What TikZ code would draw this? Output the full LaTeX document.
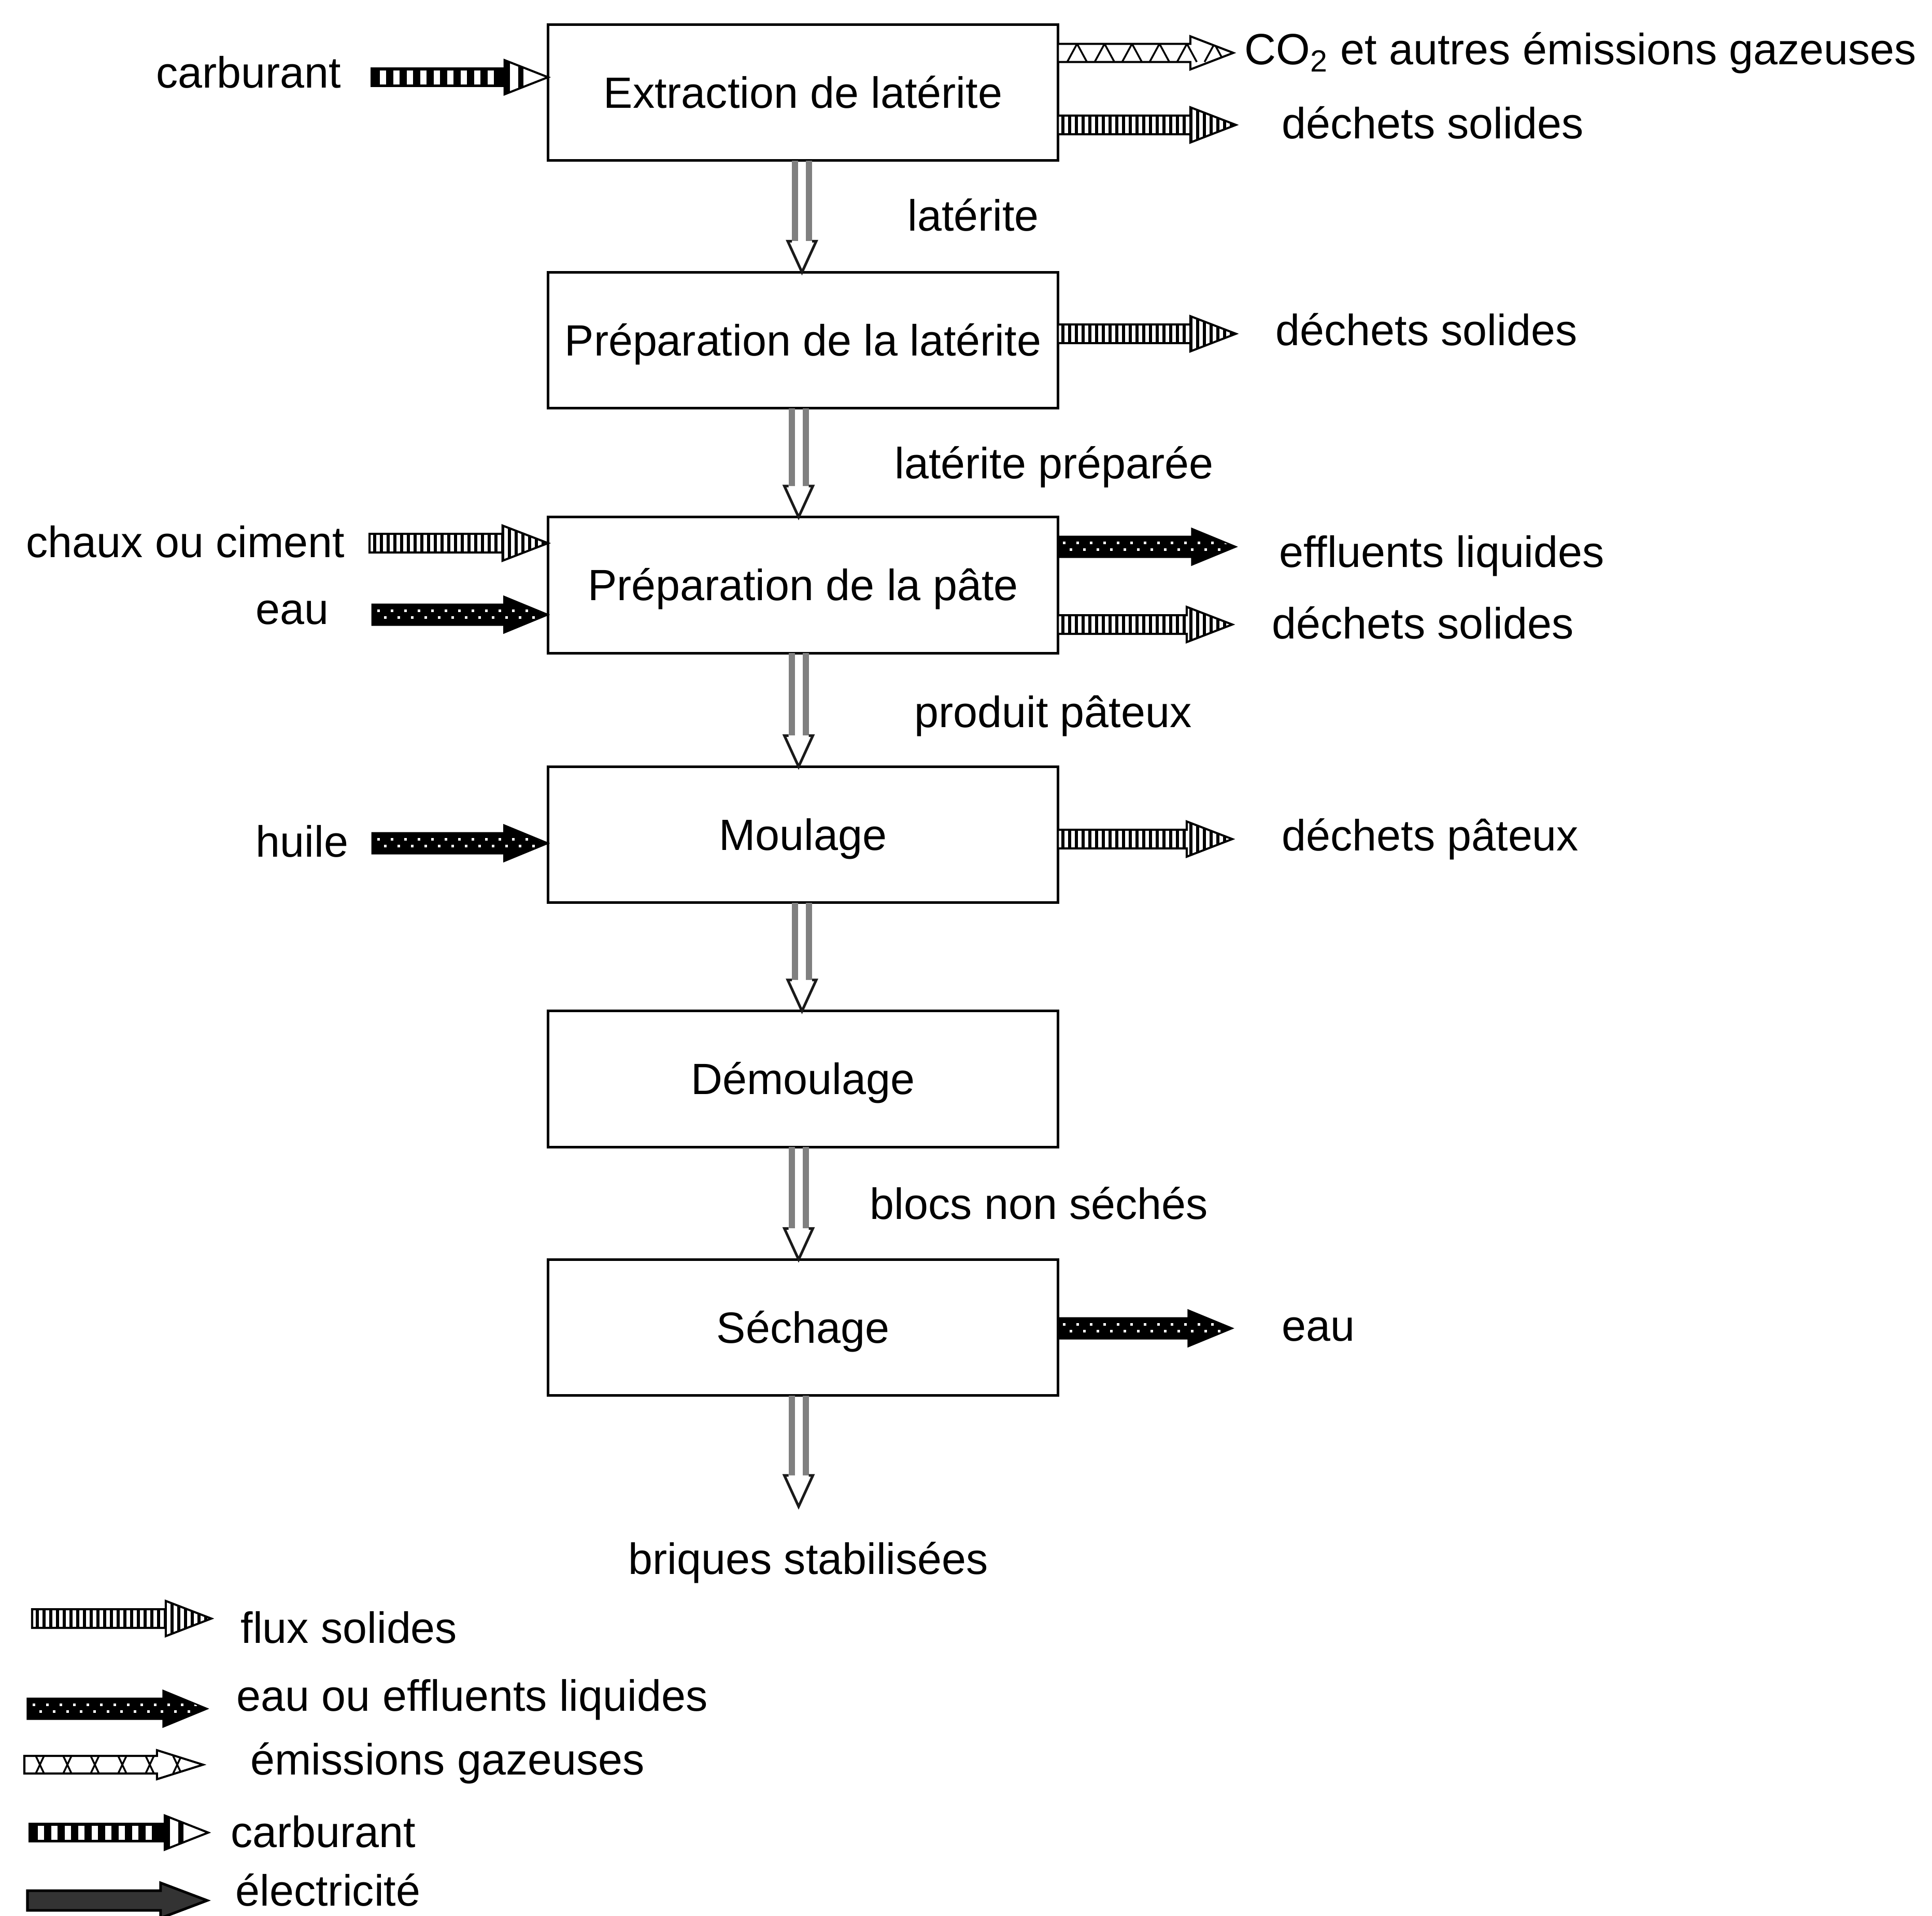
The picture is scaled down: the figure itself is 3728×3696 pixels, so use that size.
\documentclass[tikz,border=0pt]{standalone}
\usepackage{fontspec}
\setmainfont{Liberation Sans}
\usetikzlibrary{calc}
\newcommand\lbl{\fontsize{24}{28}\selectfont}
\definecolor{shaftgray}{HTML}{808080}
\definecolor{headdark}{HTML}{1A1A1A}
\definecolor{elecfill}{HTML}{333333}

% outline of a flow arrow in local coordinates (x along the arrow, 0..\FAl)
\newcommand\FApath{(0,-\FAh) -- (\FAb,-\FAh) -- (\FAb,-\FAH) -- (\FAl,0) -- (\FAb,\FAH) -- (\FAb,\FAh) -- (0,\FAh) -- cycle}
\newcommand\FAsetb{\pgfmathsetmacro\FAb{\FAl-\FAhl}}

\newcommand\FAtypesolid{%
  \def\FAh{18}\def\FAH{34}\def\FAhl{88}\FAsetb
  \fill[white] \FApath;
  \begin{scope}
    \clip \FApath;
    \foreach \i in {7,20,...,\FAl}{\fill (\i,-40) rectangle ++(6,80);}
  \end{scope}
  \draw[line width=0.4mm] \FApath;}

\newcommand\FAtypeliquid{%
  \def\FAh{20}\def\FAH{35}\def\FAhl{85}\FAsetb
  \fill \FApath;
  \begin{scope}
    \clip \FApath;
    \foreach \i in {10,36,...,\FAl}{%
      \fill[white] (\i,-10) rectangle ++(5,5);
      \fill[white] (\i+13,3) rectangle ++(5,5);}
  \end{scope}
  \draw[line width=0.3mm] \FApath;}

\newcommand\FAtypegas{%
  \def\FAh{17.5}\def\FAH{32}\def\FAhl{83}\FAsetb
  \fill[white] \FApath;
  \begin{scope}
    \clip \FApath;
    \foreach \i in {18,71,...,\FAl}{\draw[line width=0.35mm] (\i,\FAh) -- (\i+19,-\FAh) -- (\i+38,\FAh);}
  \end{scope}
  \draw[line width=0.4mm] \FApath;}

\newcommand\FAtypegasx{%
  \def\FAh{17}\def\FAH{28}\def\FAhl{89}\FAsetb
  \fill[white] \FApath;
  \begin{scope}
    \clip \FApath;
    \foreach \i in {30,83,...,\FAl}{\draw[line width=0.35mm] (\i-8,-\FAh) -- (\i+8,\FAh) (\i+8,-\FAh) -- (\i-8,\FAh);}
  \end{scope}
  \draw[line width=0.4mm] \FApath;}

\newcommand\FAtypefuel{%
  \def\FAh{19}\def\FAH{33}\def\FAhl{84}\FAsetb
  \pgfmathsetmacro\FAbm{\FAb-14}
  \fill (0,-\FAh) rectangle (\FAb,\FAh);
  \foreach \i in {18,44,...,\FAbm}{\fill[white] (\i,-13.5) rectangle ++(12,27);}
  \fill[white] (\FAb,-\FAH) -- (\FAl,0) -- (\FAb,\FAH) -- cycle;
  \begin{scope}
    \clip (\FAb,-\FAH) -- (\FAl,0) -- (\FAb,\FAH) -- cycle;
    \fill (\FAb,-50) rectangle ++(10,100);
    \fill (\FAb+26,-50) rectangle ++(10,100);
  \end{scope}
  \draw[line width=0.4mm] (\FAb,-\FAH) -- (\FAl,0) -- (\FAb,\FAH) -- cycle;}

\newcommand\FAtypeelec{%
  \def\FAh{19}\def\FAH{34}\def\FAhl{90}\FAsetb
  \filldraw[fill=elecfill,draw=black,line width=0.5mm] \FApath;}

\newcommand\FAtypehollow{%
  \def\FAhl{60}\def\FAH{27.5}\FAsetb
  \draw[shaftgray,line width=1.2mm] (0,-13.5) -- (\FAb,-13.5) (0,13.5) -- (\FAb,13.5);
  \fill[white] (\FAb,-\FAH) -- (\FAl,0) -- (\FAb,\FAH) -- cycle;
  \draw[headdark,line width=0.5mm] (\FAb,-19.5) -- (\FAb,-\FAH) -- (\FAl,0) -- (\FAb,\FAH) -- (\FAb,19.5);}

% \flowarrow{type}{from}{to}
\newcommand\flowarrow[3]{%
  \path let \p1=(#2), \p2=(#3) in
    \pgfextra{%
      \pgfmathsetmacro\FAtmp{veclen(\x2-\x1,\y2-\y1)/0.284528}\xdef\FAl{\FAtmp}%
      \pgfmathsetmacro\FAtmp{atan2(\y2-\y1,\x2-\x1)}\xdef\FAa{\FAtmp}%
      \xdef\FAx{\x1}\xdef\FAy{\y1}};
  \begin{scope}[shift={(\FAx,\FAy)},rotate=\FAa]
    \csname FAtype#1\endcsname
  \end{scope}}

\begin{document}
\begin{tikzpicture}[x=0.01cm,y=-0.01cm,
  box/.style={draw,line width=0.5mm,minimum width=9.83cm,minimum height=2.62cm,
    inner sep=0pt,outer sep=0pt,text height=17pt,text depth=0pt,font=\lbl},
  lab/.style={inner sep=0pt,text height=17pt,text depth=0pt,font=\lbl}]
\useasboundingbox (0,0) rectangle (3728,3696);
\fill[white] (0,0) rectangle (3728,3696);

% process boxes
\node[box] (b1) at (1549.5,178.5) {Extraction de latérite};
\node[box] (b2) at (1549.5,656.5) {Préparation de la latérite};
\node[box] (b3) at (1549.5,1129) {Préparation de la pâte};
\node[box] (b4) at (1549.5,1610.5) {Moulage};
\node[box] (b5) at (1549.5,2082) {Démoulage};
\node[box] (b6) at (1549.5,2561.5) {Séchage};

% main flow
\coordinate (oute) at (1541,2907);
\flowarrow{hollow}{b1.south -| 1547.5,0}{b2.north -| 1547.5,0}
\flowarrow{hollow}{b2.south -| 1541,0}{b3.north -| 1541,0}
\flowarrow{hollow}{b3.south -| 1541,0}{b4.north -| 1541,0}
\flowarrow{hollow}{b4.south -| 1547.5,0}{b5.north -| 1547.5,0}
\flowarrow{hollow}{b5.south -| 1541,0}{b6.north -| 1541,0}
\flowarrow{hollow}{b6.south -| oute}{oute}

\node[lab] (m1) at (1878,416) {latérite};
\node[lab] (m2) at (2034,894) {latérite préparée};
\node[lab] (m3) at (2032,1374) {produit pâteux};
\node[lab] (m5) at (2005,2323) {blocs non séchés};
\node[lab] (m6) at (1560,3008) {briques stabilisées};

% outputs (right)
\coordinate (co2e) at (2380,102);
\coordinate (r1e) at (2385,241);
\coordinate (r2e) at (2385,644);
\coordinate (r3ae) at (2385,1055);
\coordinate (r3be) at (2378,1205);
\coordinate (r4e) at (2378,1619);
\coordinate (r6e) at (2378,2563);
\flowarrow{gas}{b1.east |- co2e}{co2e}
\flowarrow{solid}{b1.east |- r1e}{r1e}
\flowarrow{solid}{b2.east |- r2e}{r2e}
\flowarrow{liquid}{b3.east |- r3ae}{r3ae}
\flowarrow{solid}{b3.east |- r3be}{r3be}
\flowarrow{solid}{b4.east |- r4e}{r4e}
\flowarrow{liquid}{b6.east |- r6e}{r6e}

\node[lab,anchor=west] (co2) at (2401,95) {CO\textsubscript{2} et autres émissions gazeuses};
\node[lab,anchor=west] (r1) at (2473,238) {déchets solides};
\node[lab,anchor=west] (r2) at (2461,637) {déchets solides};
\node[lab,anchor=west] (r3a) at (2468,1065) {effluents liquides};
\node[lab,anchor=west] (r3b) at (2454,1203) {déchets solides};
\node[lab,anchor=west] (r4) at (2473,1612) {déchets pâteux};
\node[lab,anchor=west] (r6) at (2473,2558) {eau};

% inputs (left)
\coordinate (l1s) at (715,149);
\coordinate (l3as) at (713,1048);
\coordinate (l3bs) at (718,1186);
\coordinate (l4s) at (718,1627);
\flowarrow{fuel}{l1s}{b1.west |- l1s}
\flowarrow{solid}{l3as}{b3.west |- l3as}
\flowarrow{liquid}{l3bs}{b3.west |- l3bs}
\flowarrow{liquid}{l4s}{b4.west |- l4s}

\node[lab,anchor=east] (l1) at (659,140) {carburant};
\node[lab,anchor=east] (l3a) at (666,1046) {chaux ou ciment};
\node[lab,anchor=east] (l3b) at (635,1175) {eau};
\node[lab,anchor=east] (l4) at (673,1624) {huile};

% legend
\coordinate (g1s) at (62,3123);  \coordinate (g1e) at (408,3123);
\coordinate (g2s) at (53,3297);  \coordinate (g2e) at (400,3297);
\coordinate (g3s) at (47,3405);  \coordinate (g3e) at (392,3405);
\coordinate (g4s) at (55,3536);  \coordinate (g4e) at (402,3536);
\coordinate (g5s) at (53,3667);  \coordinate (g5e) at (400,3667);
\flowarrow{solid}{g1s}{g1e}
\flowarrow{liquid}{g2s}{g2e}
\flowarrow{gasx}{g3s}{g3e}
\flowarrow{fuel}{g4s}{g4e}
\flowarrow{elec}{g5s}{g5e}

\node[lab,anchor=west] (k1) at (464,3141) {flux solides};
\node[lab,anchor=west] (k2) at (456,3272) {eau ou effluents liquides};
\node[lab,anchor=west] (k3) at (483,3395) {émissions gazeuses};
\node[lab,anchor=west] (k4) at (445,3535) {carburant};
\node[lab,anchor=west] (k5) at (454,3648) {électricité};
\end{tikzpicture}
\end{document}
